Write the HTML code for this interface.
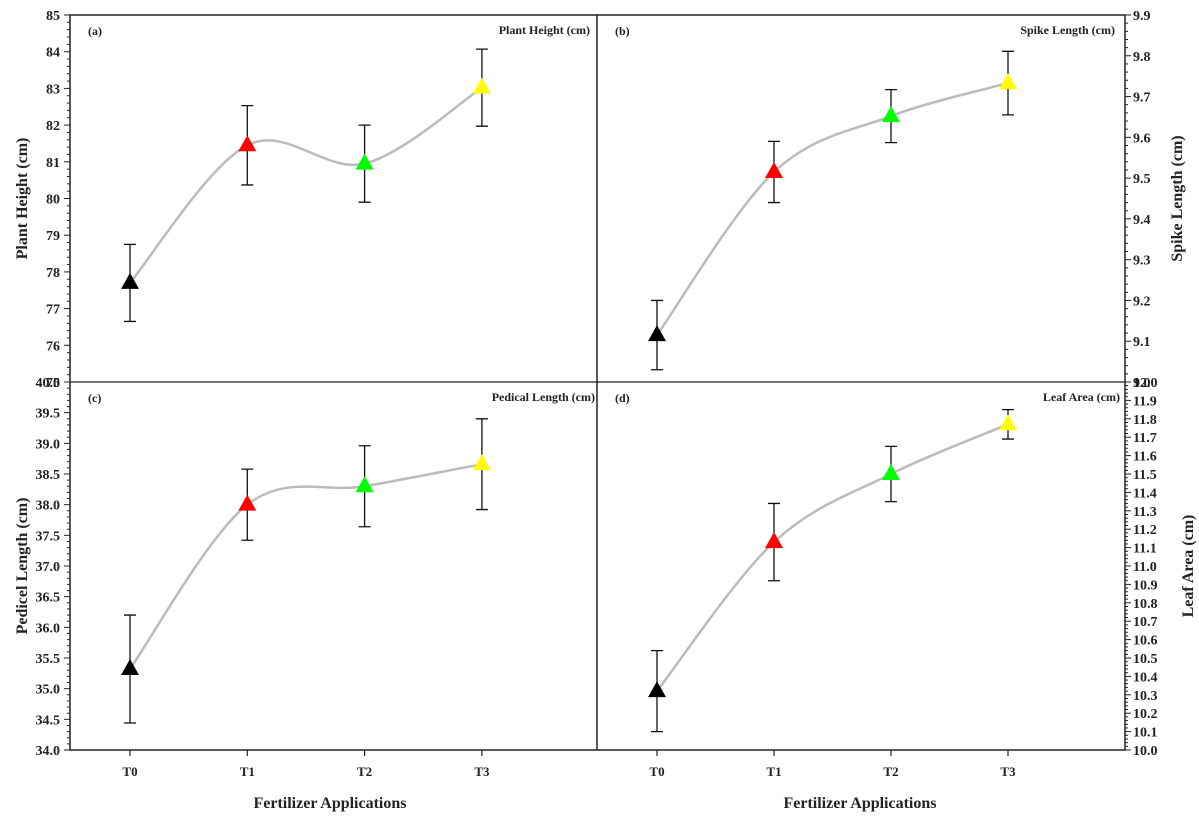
<!DOCTYPE html>
<html><head><meta charset="utf-8"><style>
body{margin:0;background:#fff}
svg text{font-family:"Liberation Serif",serif;font-weight:bold;fill:#222}
</style></head><body>
<svg id="chart" width="1199" height="817" xmlns="http://www.w3.org/2000/svg"></svg>
<script>
const categories=["T0","T1","T2","T3"];
const colors=["#000","#f00","#0f0","#ff0"];
const heightVals=[77.7,81.45,80.95,83.02];
const heightErr=[1.05,1.08,1.05,1.05];
const spikeVals=[9.115,9.515,9.652,9.733];
const spikeErr=[0.085,0.075,0.065,0.078];
const pedicelVals=[35.32,38.0,38.3,38.66];
const pedicelErr=[0.88,0.58,0.66,0.74];
const leafVals=[10.32,11.13,11.5,11.77];
const leafErr=[0.22,0.21,0.15,0.08];

const svg=document.getElementById('chart');
const NS="http://www.w3.org/2000/svg";
function el(tag,attrs,parent){const e=document.createElementNS(NS,tag);for(const k in attrs)e.setAttribute(k,attrs[k]);(parent||svg).appendChild(e);return e;}
function txt(s,attrs,parent){const t=el('text',attrs,parent);t.textContent=s;return t;}

const L=70,R=1125,MID=597,TOP=15,YM=382,BOT=750;
const frame=el('g',{});


el('rect',{x:L,y:TOP,width:R-L,height:BOT-TOP,fill:'none',stroke:'#222','stroke-width':1.5},frame);
el('line',{x1:L,y1:YM,x2:R,y2:YM,stroke:'#444','stroke-width':1.5},frame);
el('line',{x1:MID,y1:TOP,x2:MID,y2:BOT,stroke:'#222','stroke-width':1.5},frame);

function panel(cfg){
  const g=el('g',{});
  
  
  const ys=v=>cfg.y0-(v-cfg.min)/(cfg.max-cfg.min)*(cfg.y0-cfg.y1);
  const xs=i=>cfg.x0+i*cfg.dx;
  const ax=el('g',{},g);
  
  
  const nMinor=Math.round((cfg.max-cfg.min)/cfg.minor);
  for(let k=0;k<=nMinor;k++){
    const v=cfg.min+k*cfg.minor;const yy=ys(v);
    const isMajor=Math.abs(((v-cfg.min)/cfg.major)-Math.round((v-cfg.min)/cfg.major))<1e-6;
    const len=isMajor?6:3;
    const x2=cfg.side==='left'?cfg.ax-len:cfg.ax+len;
    el('line',{x1:cfg.ax,y1:yy,x2:x2,y2:yy,stroke:'#222','stroke-width':1},ax);
    if(isMajor){
      txt(v.toFixed(cfg.dec),{x:cfg.side==='left'?cfg.ax-10:cfg.ax+8,y:yy+5,'font-size':cfg.fs,'text-anchor':cfg.side==='left'?'end':'start'},ax);
    }
  }
  const pts=cfg.vals.map((v,i)=>[xs(i),ys(v)]);
  let d=`M${pts[0][0]},${pts[0][1]}`;
  for(let i=0;i<pts.length-1;i++){
    const p0=pts[Math.max(0,i-1)],p1=pts[i],p2=pts[i+1],p3=pts[Math.min(pts.length-1,i+2)];
    const c1=[p1[0]+(p2[0]-p0[0])/6,p1[1]+(p2[1]-p0[1])/6];
    const c2=[p2[0]-(p3[0]-p1[0])/6,p2[1]-(p3[1]-p1[1])/6];
    d+=` C${c1[0]},${c1[1]} ${c2[0]},${c2[1]} ${p2[0]},${p2[1]}`;
  }
  const line=el('path',{d:d,fill:'none',stroke:'#bbb','stroke-width':2.5},g);
  
  
  cfg.vals.forEach((v,i)=>{
    const x=xs(i),yv=ys(v),yt=ys(v+cfg.err[i]),yb=ys(v-cfg.err[i]);
    const eb=el('path',{d:`M${x},${yt}V${yb}M${x-6},${yt}H${x+6}M${x-6},${yb}H${x+6}`,stroke:'#111','stroke-width':1.3,fill:'none'},g);
    
    
    const m=el('polygon',{points:`${x},${yv-10} ${x-9},${yv+6} ${x+9},${yv+6}`,fill:colors[i]},g);
    
    
  });
  const pl=txt(cfg.tag,{x:cfg.x0-42,y:cfg.y1+20,'font-size':12},g);
  
  
  const tl=txt(cfg.title,{x:cfg.titleX,y:cfg.y1+19,'font-size':12,'text-anchor':'end'},g);
  
  
  const yt=txt(cfg.ytitle,{x:0,y:0,'font-size':16,'text-anchor':'middle',transform:`translate(${cfg.ytx},${(cfg.y0+cfg.y1)/2}) rotate(-90)`},g);
  
  
}
panel({name:'panel-a',x0:130,dx:117.3,y0:382,y1:15,min:75,max:85,major:1,minor:0.2,dec:0,fs:14,side:'left',ax:L,vals:heightVals,err:heightErr,tag:'(a)',title:'Plant Height (cm)',titleX:590,ytitle:'Plant Height (cm)',ytx:27});
panel({name:'panel-b',x0:657,dx:117,y0:382,y1:15,min:9.0,max:9.9,major:0.1,minor:0.02,dec:1,fs:14,side:'right',ax:R,vals:spikeVals,err:spikeErr,tag:'(b)',title:'Spike Length (cm)',titleX:1115,ytitle:'Spike Length (cm)',ytx:1182});
panel({name:'panel-c',x0:130,dx:117.3,y0:750,y1:382,min:34,max:40,major:0.5,minor:0.1,dec:1,fs:14,side:'left',ax:L,vals:pedicelVals,err:pedicelErr,tag:'(c)',title:'Pedical Length (cm)',titleX:595,ytitle:'Pedicel Length (cm)',ytx:27});
panel({name:'panel-d',x0:657,dx:117,y0:750,y1:382,min:10,max:12,major:0.1,minor:0.02,dec:1,fs:14,side:'right',ax:R,vals:leafVals,err:leafErr,tag:'(d)',title:'Leaf Area (cm)',titleX:1120,ytitle:'Leaf Area (cm)',ytx:1193});
[[130,117.3,330],[657,117,860]].forEach(([x0,dx,cx],p)=>{
  const g=el('g',{});
  
  
  categories.forEach((c,i)=>{
    const x=x0+i*dx;
    el('line',{x1:x,y1:BOT,x2:x,y2:BOT+6,stroke:'#222','stroke-width':1.2},g);
    txt(c,{x:x,y:BOT+26,'font-size':13,'text-anchor':'middle'},g);
  });
  const t=txt('Fertilizer Applications',{x:cx,y:808,'font-size':16,'text-anchor':'middle'},g);
  
  
});
</script>
</body></html>
